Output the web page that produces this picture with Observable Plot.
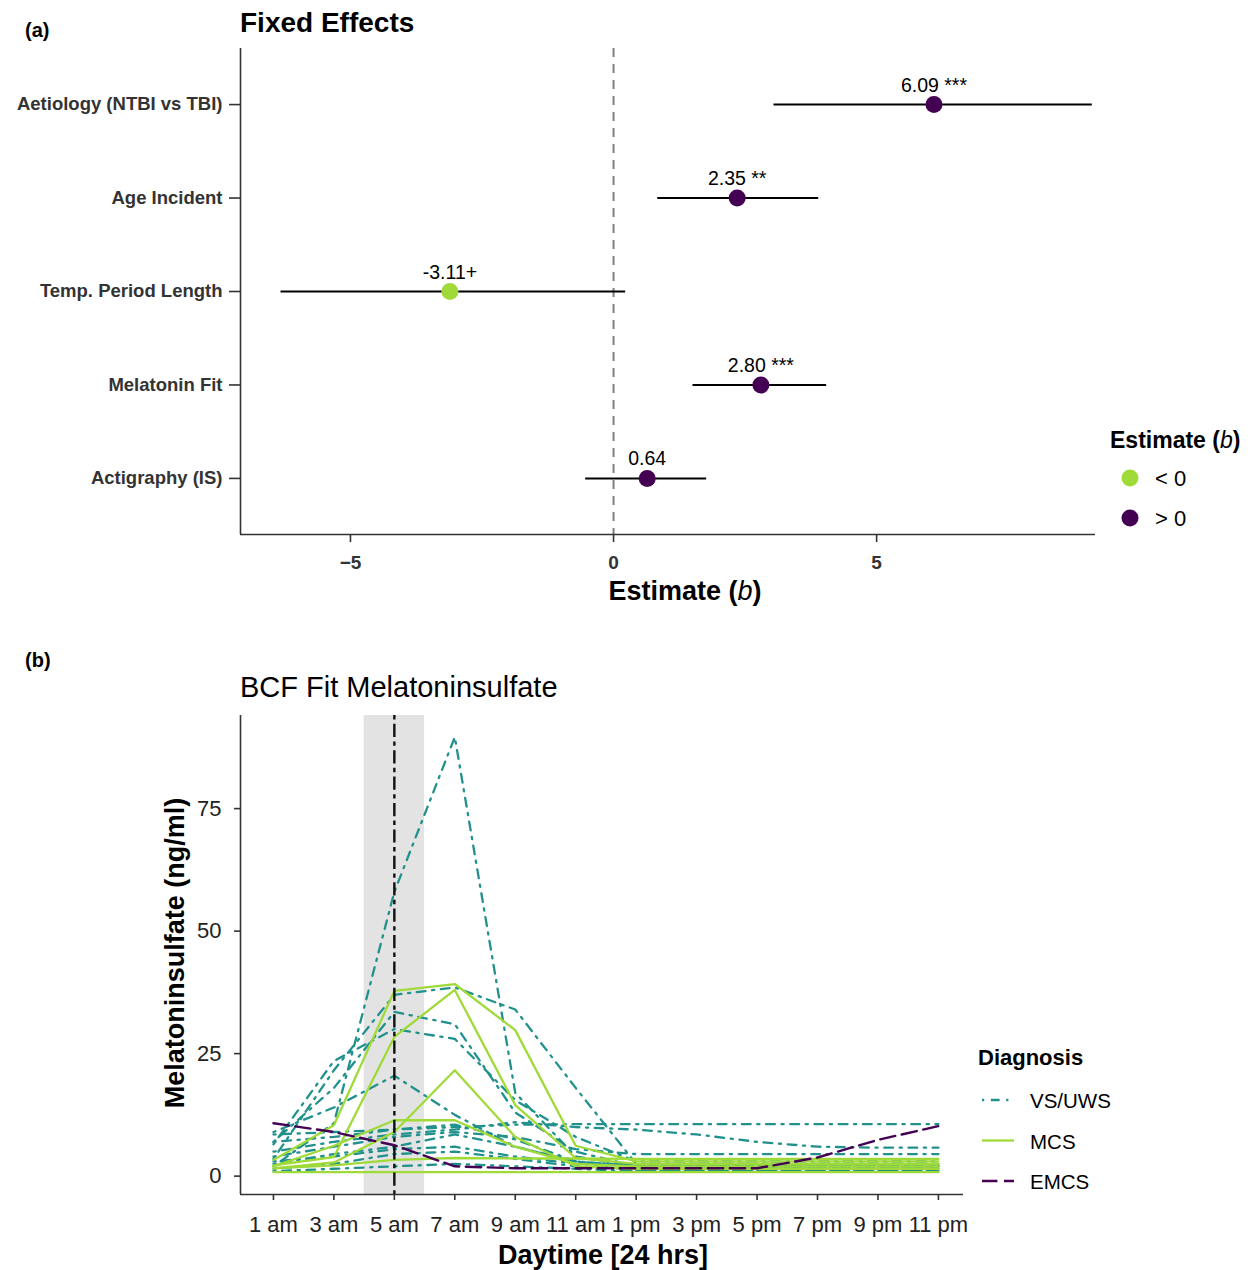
<!DOCTYPE html>
<html><head><meta charset="utf-8">
<script src="https://cdn.jsdelivr.net/npm/d3@7"></script>
<script src="https://cdn.jsdelivr.net/npm/@observablehq/plot@0.6"></script>
<style>
body{margin:0;background:#fff;font-family:"Liberation Sans",Arial,sans-serif;}
#root{position:relative;width:1250px;height:1270px;overflow:hidden;background:#fff;}
#root svg{position:absolute;left:0;}
</style></head><body><div id="root"></div>
<script>
// ---------- Panel (a) data ----------
const predictors = ["Aetiology (NTBI vs TBI)", "Age Incident", "Temp. Period Length", "Melatonin Fit", "Actigraphy (IS)"];
const estimates = [6.09, 2.35, -3.11, 2.80, 0.64];
const ciLow = [3.05, 0.84, -6.32, 1.51, -0.53];
const ciHigh = [9.10, 3.90, 0.23, 4.05, 1.77];
const sigLabels = ["6.09 ***", "2.35 **", "-3.11+", "2.80 ***", "0.64"];
const estTicks = [-5, 0, 5];
const signLevels = ["< 0", "> 0"];
const signColors = ["#A0DA39", "#440154"];

// ---------- Panel (b) data ----------
const hours = [1, 3, 5, 7, 9, 11, 13, 15, 17, 19, 21, 23];
const hourLabels = ["1 am", "3 am", "5 am", "7 am", "9 am", "11 am", "1 pm", "3 pm", "5 pm", "7 pm", "9 pm", "11 pm"];
const melTicks = [0, 25, 50, 75];
const shadeHours = [4, 6];
const markerHour = [5];
const diagnoses = ["VS/UWS", "MCS", "EMCS"];
const diagColors = ["#21918C", "#A0DA39", "#440154"];

const vsuws = [
  [2.0, 10.8, 58.0, 89.6, 17.0, 4.0, 2.0, 2.0, 2.0, 2.0, 2.0, 2.0],
  [3.5, 21.6, 37.0, 38.5, 34.0, 18.0, 2.5, 2.5, 2.5, 2.5, 2.5, 2.5],
  [6.5, 23.5, 30.0, 28.0, 15.5, 8.0, 3.0, 3.0, 3.0, 3.0, 3.0, 3.0],
  [7.0, 18.0, 33.5, 31.0, 13.0, 5.0, 2.0, 2.0, 2.0, 2.0, 2.0, 2.0],
  [9.0, 14.0, 20.5, 12.5, 6.0, 3.0, 2.0, 2.0, 2.0, 2.0, 2.0, 2.0],
  [8.5, 9.0, 9.5, 10.0, 10.5, 10.6, 10.6, 10.6, 10.6, 10.6, 10.6, 10.6],
  [5.0, 7.0, 8.5, 9.5, 11.0, 10.0, 9.5, 8.5, 7.0, 6.0, 5.8, 5.8],
  [4.0, 6.0, 8.0, 9.0, 8.0, 5.5, 4.5, 4.5, 4.5, 4.5, 4.5, 4.5],
  [2.5, 4.5, 6.0, 8.5, 6.0, 3.0, 2.0, 2.0, 2.0, 2.0, 2.0, 2.0],
  [1.5, 2.5, 4.5, 5.0, 3.5, 2.0, 1.5, 1.5, 1.5, 1.5, 1.5, 1.5],
  [7.0, 8.0, 9.5, 10.5, 7.5, 3.0, 1.0, 1.0, 1.0, 1.0, 1.0, 1.0],
  [1.0, 1.5, 2.0, 2.5, 2.0, 1.5, 1.0, 1.0, 1.0, 1.0, 1.0, 1.0],
  [3.0, 4.0, 5.5, 6.0, 4.0, 2.5, 2.5, 2.5, 2.5, 2.5, 2.5, 2.5]
];
const mcs = [
  [3.3, 10.4, 37.8, 39.2, 29.8, 6.2, 3.0, 3.0, 3.0, 3.0, 3.0, 3.0],
  [2.2, 3.9, 28.4, 38.0, 14.5, 3.7, 2.5, 2.5, 2.5, 2.5, 2.5, 2.5],
  [1.6, 2.8, 9.0, 21.6, 8.0, 2.0, 1.5, 1.5, 1.5, 1.5, 1.5, 1.5],
  [2.0, 6.2, 11.4, 11.4, 6.0, 2.5, 2.0, 2.0, 2.0, 2.0, 2.0, 2.0],
  [1.6, 2.2, 3.3, 3.7, 3.6, 3.6, 3.5, 3.5, 3.5, 3.5, 3.5, 3.5],
  [0.8, 0.8, 0.8, 0.8, 0.8, 0.8, 0.8, 0.8, 0.8, 0.8, 0.8, 0.8]
];
const emcs = [
  [10.8, 9.0, 6.3, 2.0, 1.6, 1.6, 1.6, 1.6, 1.6, 3.8, 7.4, 10.2]
];

const FONT = '"Liberation Sans", Arial, sans-serif';
const root = document.getElementById("root");

// ---------- Panel (a) ----------
const n = predictors.length;
const fe = predictors.map((p, i) => ({
  pred: p, pos: n - i, est: estimates[i], lo: ciLow[i], hi: ciHigh[i],
  lab: sigLabels[i], sign: estimates[i] < 0 ? signLevels[0] : signLevels[1]
}));
const xDomA = [-7.09, 9.16];
const yDomA = [0.4, n + 0.6];
const plotA = Plot.plot({
  width: 1250, height: 620,
  marginLeft: 240, marginRight: 155, marginTop: 48, marginBottom: 86,
  style: {fontFamily: FONT, fontSize: "18px", background: "transparent", overflow: "visible"},
  x: {domain: xDomA},
  y: {domain: yDomA},
  color: {domain: signLevels, range: signColors},
  marks: [
    Plot.ruleX([0], {stroke: "#808080", strokeWidth: 2, strokeDasharray: "9,7"}),
    Plot.ruleY(fe, {y: "pos", x1: "lo", x2: "hi", stroke: "#000", strokeWidth: 2}),
    Plot.dot(fe, {x: "est", y: "pos", r: 8.5, fill: "sign", stroke: null}),
    Plot.text(fe, {x: "est", y: "pos", text: "lab", dy: -13, fontSize: 19.5, fill: "#000", lineAnchor: "bottom", fontWeight: "normal"}),
    Plot.ruleX([xDomA[0]], {stroke: "#333", strokeWidth: 1.6}),
    Plot.ruleY([yDomA[0]], {stroke: "#333", strokeWidth: 1.6}),
    Plot.axisX({ticks: estTicks, tickSize: 8, tickPadding: 13, strokeWidth: 1.6, stroke: "#333", fill: "#333",
      fontSize: 19, fontWeight: "bold", label: null,
      tickFormat: d => d < 0 ? "\u2212" + Math.abs(d) : String(d)}),
    Plot.axisY({ticks: fe.map(d => d.pos), tickSize: 11, tickPadding: 7, strokeWidth: 1.6, stroke: "#333", fill: "#333",
      fontSize: 18.5, fontWeight: "bold", label: null,
      tickFormat: p => predictors[n - p]})
  ]
});
plotA.style.top = "0px";
root.appendChild(plotA);

// ---------- Panel (b) ----------
function toRows(arr, diag, prefix) {
  const rows = [];
  arr.forEach((vals, k) => vals.forEach((v, i) => rows.push({grp: prefix + k, diag, hour: hours[i], value: v})));
  return rows;
}
const rowsV = toRows(vsuws, diagnoses[0], "v");
const rowsM = toRows(mcs, diagnoses[1], "m");
const rowsE = toRows(emcs, diagnoses[2], "e");
const xDomB = [-0.09, 23.83];
const yDomB = [-3.75, 94.0];
const plotB = Plot.plot({
  width: 1250, height: 650,
  marginLeft: 240, marginRight: 287, marginTop: 95, marginBottom: 76,
  style: {fontFamily: FONT, fontSize: "22px", background: "transparent", overflow: "visible"},
  x: {domain: xDomB},
  y: {domain: yDomB},
  marks: [
    Plot.rect([shadeHours], {x1: d => d[0], x2: d => d[1], fill: "#E3E3E3"}),
    Plot.line(rowsV, {x: "hour", y: "value", z: "grp", stroke: diagColors[0], strokeWidth: 2.3, strokeDasharray: "2.2,6.6,8.8,6.6", strokeLinejoin: "round"}),
    Plot.line(rowsM, {x: "hour", y: "value", z: "grp", stroke: diagColors[1], strokeWidth: 2.3, strokeLinejoin: "round"}),
    Plot.line(rowsE, {x: "hour", y: "value", z: "grp", stroke: diagColors[2], strokeWidth: 2.4, strokeDasharray: "15.4,6.6"}),
    Plot.ruleX(markerHour, {stroke: "#111", strokeWidth: 2.4, strokeDasharray: "4.4,4.4,13.2,4.4"}),
    Plot.ruleX([xDomB[0]], {stroke: "#333", strokeWidth: 1.6}),
    Plot.ruleY([yDomB[0]], {stroke: "#333", strokeWidth: 1.6}),
    Plot.axisX({ticks: hours, tickSize: 6, tickPadding: 16, strokeWidth: 1.6, stroke: "#333", fill: "#222",
      fontSize: 22, label: null, tickFormat: h => hourLabels[hours.indexOf(h)]}),
    Plot.axisY({ticks: melTicks, tickSize: 6, tickPadding: 13, strokeWidth: 1.6, stroke: "#333", fill: "#222",
      fontSize: 22, label: null})
  ]
});
plotB.style.top = "620px";
root.appendChild(plotB);

// ---------- Overlay texts & legends ----------
const ov = d3.select(root).append("svg")
  .attr("width", 1250).attr("height", 1270)
  .style("top", "0px").style("pointer-events", "none")
  .style("font-family", FONT);

function txt(x, y, s, size, weight, anchor, fill) {
  return ov.append("text").attr("x", x).attr("y", y).attr("font-size", size)
    .attr("font-weight", weight || "normal").attr("text-anchor", anchor || "start")
    .attr("fill", fill || "#000").text(s);
}
// Panel (a)
txt(25, 37, "(a)", 20, "bold");
txt(240, 32, "Fixed Effects", 28, "bold");
const xt = txt(685, 600, "Estimate (", 27, "bold", "middle");
xt.append("tspan").attr("font-style", "italic").attr("font-weight", "normal").text("b");
xt.append("tspan").text(")");
// legend (a)
const lt = txt(1110, 448, "Estimate (", 23, "bold");
lt.append("tspan").attr("font-style", "italic").attr("font-weight", "normal").text("b");
lt.append("tspan").text(")");
signLevels.forEach((lev, i) => {
  const cy = 478 + i * 40;
  ov.append("circle").attr("cx", 1130).attr("cy", cy).attr("r", 8.5).attr("fill", signColors[i]);
  txt(1155, cy + 8, lev, 22, "normal");
});

// Panel (b)
txt(25, 667, "(b)", 20, "bold");
txt(240, 697, "BCF Fit Melatoninsulfate", 29, "normal");
txt(603, 1264, "Daytime [24 hrs]", 27, "bold", "middle");
ov.append("text").attr("transform", "translate(184,953) rotate(-90)")
  .attr("font-size", 27).attr("font-weight", "bold").attr("text-anchor", "middle")
  .text("Melatoninsulfate (ng/ml)");
// legend (b)
txt(978, 1065, "Diagnosis", 22, "bold");
const dashes = ["2.2,6.6,8.8,6.6", null, "15.4,6.6"];
diagnoses.forEach((d, i) => {
  const cy = 1100 + i * 40.5;
  const ln = ov.append("line").attr("x1", 982).attr("x2", 1014).attr("y1", cy).attr("y2", cy)
    .attr("stroke", diagColors[i]).attr("stroke-width", 2.3);
  if (dashes[i]) ln.attr("stroke-dasharray", dashes[i]);
  txt(1030, cy + 8, d, 20.5, "normal");
});
</script>
</body></html>
